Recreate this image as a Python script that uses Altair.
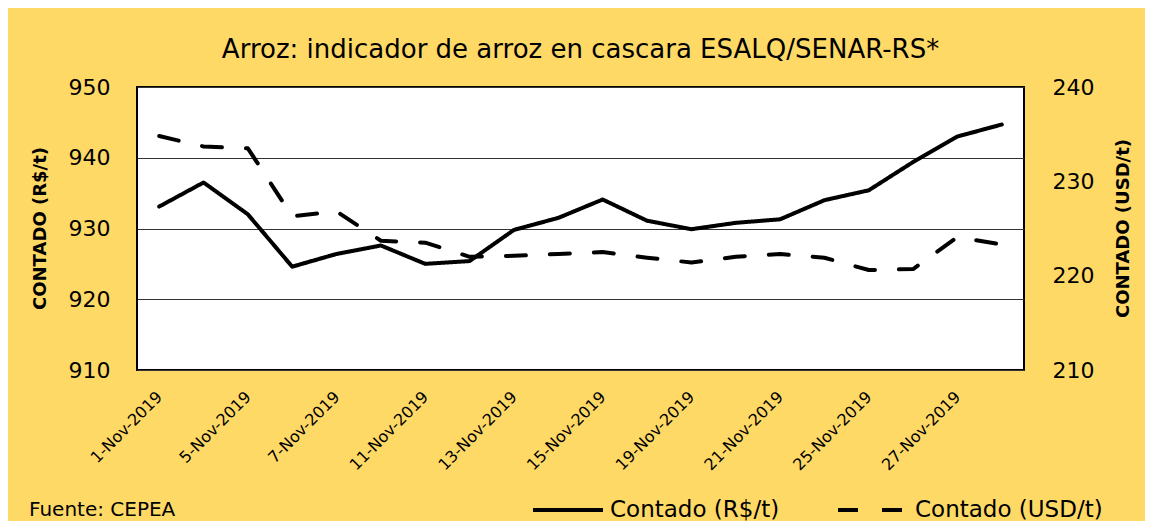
import altair as alt
import pandas as pd

fechas = ["1-Nov-2019", "4-Nov-2019", "5-Nov-2019", "6-Nov-2019", "7-Nov-2019",
          "8-Nov-2019", "11-Nov-2019", "12-Nov-2019", "13-Nov-2019", "14-Nov-2019",
          "15-Nov-2019", "18-Nov-2019", "19-Nov-2019", "20-Nov-2019", "21-Nov-2019",
          "22-Nov-2019", "25-Nov-2019", "26-Nov-2019", "27-Nov-2019", "28-Nov-2019"]
contado_rs = [933.1, 936.5, 932.0, 924.6, 926.4, 927.6, 925.0, 925.4, 929.8, 931.5,
              934.1, 931.1, 929.9, 930.8, 931.3, 934.0, 935.4, 939.4, 943.0, 944.7]
contado_usd = [234.8, 233.7, 233.5, 226.3, 226.8, 223.7, 223.5, 222.0, 222.1, 222.3,
               222.5, 221.9, 221.4, 222.0, 222.3, 221.9, 220.6, 220.7, 224.1, 223.3]
etiquetas_x = ["1-Nov-2019", "5-Nov-2019", "7-Nov-2019", "11-Nov-2019", "13-Nov-2019",
               "15-Nov-2019", "19-Nov-2019", "21-Nov-2019", "25-Nov-2019", "27-Nov-2019"]
serie_rs = "Contado (R$/t)"
serie_usd = "Contado (USD/t)"
titulo = "Arroz: indicador de arroz en cascara ESALQ/SENAR-RS*"
fuente = "Fuente: CEPEA"

df = pd.DataFrame({
    "fecha": fechas * 2,
    "serie": [serie_rs] * len(fechas) + [serie_usd] * len(fechas),
    "valor": contado_rs + contado_usd,
})

FONT = "DejaVu Sans"
BG = "#FFD966"

x_enc = alt.X("fecha:N", sort=fechas,
              scale=alt.Scale(type="point", padding=0.5),
              axis=alt.Axis(values=etiquetas_x, labelAngle=-45, labelAlign="right",
                            labelBaseline="middle", labelPadding=24, labelFontSize=16,
                            labelFont=FONT, labelColor="black", ticks=False,
                            domain=False, grid=False, title=None))

dash = alt.StrokeDash("serie:N",
                      scale=alt.Scale(domain=[serie_rs, serie_usd], range=[[1, 0], [20, 24]]),
                      legend=alt.Legend(title=None, orient="none", legendX=394, legendY=386,
                                        direction="horizontal", columns=2, columnPadding=50,
                                        symbolType="stroke", symbolSize=4900,
                                        symbolStrokeWidth=4, symbolStrokeColor="black",
                                        labelFontSize=23, labelFont=FONT, labelColor="black",
                                        labelOffset=5, labelLimit=400))

left = alt.Chart(df).transform_filter(alt.datum.serie == serie_rs).mark_line(
    color="black", strokeWidth=4, strokeCap="round", strokeJoin="round"
).encode(
    x=x_enc,
    y=alt.Y("valor:Q", scale=alt.Scale(domain=[910, 950], nice=False, zero=False),
            axis=alt.Axis(orient="left", values=[910, 920, 930, 940, 950], grid=True,
                          gridColor="#333333", gridWidth=1, ticks=False, domain=False,
                          labelFontSize=22, labelFont=FONT, labelColor="black",
                          labelPadding=27, title="CONTADO (R$/t)", titleFont=FONT,
                          titleFontSize=18, titleFontWeight="bold", titleColor="black",
                          titleAngle=270, titleX=-97, titleY=141, titleAlign="center",
                          titleBaseline="middle")),
    strokeDash=dash,
)

right = alt.Chart(df).transform_filter(alt.datum.serie == serie_usd).mark_line(
    color="black", strokeWidth=4, strokeCap="round", strokeJoin="round"
).encode(
    x=x_enc,
    y=alt.Y("valor:Q", scale=alt.Scale(domain=[210, 240], nice=False, zero=False),
            axis=alt.Axis(orient="right", values=[210, 220, 230, 240], grid=False,
                          ticks=False, domain=False,
                          labelFontSize=22, labelFont=FONT, labelColor="black",
                          labelPadding=28, title="CONTADO (USD/t)", titleFont=FONT,
                          titleFontSize=18, titleFontWeight="bold", titleColor="black",
                          titleAngle=270, titleX=99, titleY=141, titleAlign="center",
                          titleBaseline="middle")),
    strokeDash=dash,
)

nota = alt.Chart(pd.DataFrame({"t": [fuente]})).mark_text(
    font=FONT, fontSize=20, color="black", align="left", baseline="middle"
).encode(text="t:N", x=alt.value(-108), y=alt.value(423))

chart = alt.layer(left, right, nota).resolve_scale(y="independent").properties(
    width=887, height=283,
    background=BG,
    autosize=alt.AutoSizeParams(type="none"),
    padding={"left": 129, "top": 79, "right": 121, "bottom": 151},
    title=alt.TitleParams(text=titulo, font=FONT, fontSize=26, fontWeight="normal",
                          color="black", anchor="middle", frame="group", offset=13),
).configure_view(stroke="black", strokeWidth=2, fill="white")

chart.save("out.html", embed_options={"renderer": "svg", "actions": False})
